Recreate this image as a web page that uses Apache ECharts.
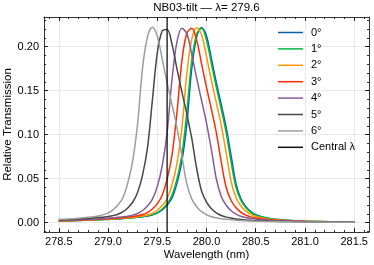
<!DOCTYPE html>
<html>
<head>
<meta charset="utf-8">
<script src="https://cdn.jsdelivr.net/npm/echarts@6/dist/echarts.min.js"></script>
<style>
html,body{margin:0;padding:0;background:#fff;}
#chart{width:374px;height:265px;}
</style>
</head>
<body>
<div id="chart"></div>
<script>
// ---- data ----
const WAVELENGTH = [278.5, 278.6, 278.7, 278.8, 278.9, 279.0, 279.05, 279.1, 279.15, 279.2, 279.25, 279.3, 279.35, 279.4, 279.45, 279.5, 279.55, 279.6, 279.65, 279.7, 279.75, 279.8, 279.85, 279.9, 279.95, 280.0, 280.05, 280.1, 280.15, 280.2, 280.25, 280.3, 280.35, 280.4, 280.45, 280.5, 280.6, 280.7, 280.8, 280.9, 281.0, 281.25, 281.5];

const T_0 = [0.0018, 0.0021, 0.0025, 0.0029, 0.0033, 0.0037, 0.0040, 0.0043, 0.0047, 0.0051, 0.0056, 0.0062, 0.0068, 0.0076, 0.0088, 0.0108, 0.0145, 0.0200, 0.0280, 0.0450, 0.0700, 0.1120, 0.1750, 0.2110, 0.2215, 0.2120, 0.1860, 0.1590, 0.1340, 0.1080, 0.0760, 0.0440, 0.0270, 0.0180, 0.0125, 0.0090, 0.0056, 0.0038, 0.0028, 0.0021, 0.0018, 0.0011, 0.0007];
const T_1 = [0.0018, 0.0021, 0.0026, 0.0029, 0.0034, 0.0038, 0.0041, 0.0044, 0.0048, 0.0052, 0.0057, 0.0063, 0.0070, 0.0078, 0.0092, 0.0115, 0.0156, 0.0216, 0.0312, 0.0494, 0.0772, 0.1252, 0.1838, 0.2142, 0.2208, 0.2072, 0.1804, 0.1538, 0.1288, 0.1020, 0.0688, 0.0400, 0.0252, 0.0169, 0.0118, 0.0086, 0.0053, 0.0037, 0.0027, 0.0021, 0.0017, 0.0011, 0.0007];
const T_2 = [0.0018, 0.0022, 0.0027, 0.0030, 0.0035, 0.0040, 0.0043, 0.0047, 0.0051, 0.0055, 0.0061, 0.0067, 0.0075, 0.0087, 0.0106, 0.0141, 0.0194, 0.0272, 0.0432, 0.0672, 0.1072, 0.1690, 0.2082, 0.2214, 0.2134, 0.1888, 0.1616, 0.1364, 0.1106, 0.0794, 0.0468, 0.0284, 0.0189, 0.0131, 0.0094, 0.0070, 0.0046, 0.0033, 0.0024, 0.0019, 0.0016, 0.0010, 0.0007];
const T_3 = [0.0021, 0.0026, 0.0029, 0.0034, 0.0038, 0.0044, 0.0048, 0.0052, 0.0057, 0.0063, 0.0070, 0.0078, 0.0092, 0.0115, 0.0156, 0.0216, 0.0312, 0.0494, 0.0772, 0.1252, 0.1838, 0.2152, 0.2208, 0.2072, 0.1804, 0.1538, 0.1288, 0.1020, 0.0688, 0.0400, 0.0252, 0.0169, 0.0118, 0.0086, 0.0066, 0.0053, 0.0037, 0.0027, 0.0021, 0.0017, 0.0014, 0.0009, 0.0007];
const T_4 = [0.0025, 0.0028, 0.0033, 0.0037, 0.0043, 0.0051, 0.0055, 0.0061, 0.0067, 0.0074, 0.0086, 0.0104, 0.0138, 0.0189, 0.0264, 0.0410, 0.0644, 0.1024, 0.1630, 0.2054, 0.2208, 0.2148, 0.1916, 0.1642, 0.1388, 0.1132, 0.0828, 0.0496, 0.0298, 0.0198, 0.0136, 0.0097, 0.0072, 0.0059, 0.0047, 0.0040, 0.0029, 0.0022, 0.0018, 0.0015, 0.0012, 0.0008, 0.0006];
const T_5 = [0.0032, 0.0036, 0.0041, 0.0049, 0.0058, 0.0071, 0.0080, 0.0096, 0.0122, 0.0167, 0.0232, 0.0344, 0.0538, 0.0844, 0.1384, 0.1926, 0.2177, 0.2196, 0.2026, 0.1748, 0.1486, 0.1236, 0.0960, 0.0616, 0.0360, 0.0234, 0.0159, 0.0111, 0.0081, 0.0063, 0.0052, 0.0042, 0.0036, 0.0030, 0.0026, 0.0023, 0.0019, 0.0015, 0.0013, 0.0011, 0.0009, 0.0007, 0.0005];
const T_6 = [0.0038, 0.0043, 0.0051, 0.0062, 0.0076, 0.0108, 0.0145, 0.0200, 0.0280, 0.0450, 0.0700, 0.1120, 0.1750, 0.2110, 0.2220, 0.2120, 0.1860, 0.1590, 0.1340, 0.1080, 0.0760, 0.0440, 0.0270, 0.0180, 0.0125, 0.0090, 0.0068, 0.0056, 0.0045, 0.0038, 0.0032, 0.0028, 0.0024, 0.0021, 0.0019, 0.0017, 0.0014, 0.0012, 0.0010, 0.0009, 0.0008, 0.0006, 0.0005];

const SERIES_NAMES = ['0°', '1°', '2°', '3°', '4°', '5°', '6°'];
const SERIES_VALUES = [T_0, T_1, T_2, T_3, T_4, T_5, T_6];
const SERIES_COLORS = ['#0C5DA5', '#00B945', '#FF9500', '#FF2C00', '#845B97', '#474747', '#9e9e9e'];

const CENTRAL_LAMBDA = 279.6;
const CENTRAL_NAME = 'Central λ';
const TITLE = 'NB03-tilt — λ= 279.6';

const X_TICKS = [278.5, 279.0, 279.5, 280.0, 280.5, 281.0, 281.5];
const Y_TICKS = [0.00, 0.05, 0.10, 0.15, 0.20];

// ---- layout ----
const XMIN = 278.35, XMAX = 281.65;
const YMIN = -0.0106, YMAX = 0.2337;
const X_MINOR = [];
for (let i = 0; i <= 32; i++) X_MINOR.push(Math.round((278.4 + i * 0.1) * 1000) / 1000);
const Y_MINOR = [];
for (let i = -1; i <= 23; i++) Y_MINOR.push(Math.round(i * 0.01 * 1000) / 1000);

const FONT = 'Liberation Sans';
const INK = '#000';
const axLine = { show: true, onZero: false, lineStyle: { color: INK, width: 0.8 } };
const gridLine = { show: true, lineStyle: { color: '#e2e2e2', width: 0.8 } };

function xAx(pos, major, showLine, extra) {
  return Object.assign({
    type: 'value', min: XMIN, max: XMAX, position: pos, gridIndex: 0,
    axisLine: showLine ? axLine : { show: false, onZero: false },
    axisTick: { show: true, inside: true, length: major ? 4 : 2, customValues: major ? X_TICKS : X_MINOR, lineStyle: { color: INK, width: 0.8 } },
    axisLabel: { show: false },
    splitLine: { show: false }
  }, extra || {});
}
function yAx(pos, major, showLine, extra) {
  return Object.assign({
    type: 'value', min: YMIN, max: YMAX, position: pos, gridIndex: 0,
    axisLine: showLine ? axLine : { show: false, onZero: false },
    axisTick: { show: true, inside: true, length: major ? 4 : 2, customValues: major ? Y_TICKS : Y_MINOR, lineStyle: { color: INK, width: 0.8 } },
    axisLabel: { show: false },
    splitLine: { show: false }
  }, extra || {});
}

const series = SERIES_NAMES.map((name, k) => ({
  name: name,
  type: 'line',
  xAxisIndex: 0, yAxisIndex: 0,
  data: WAVELENGTH.map((x, i) => [x, SERIES_VALUES[k][i]]),
  smooth: 0.35,
  symbol: 'none',
  showSymbol: false,
  color: SERIES_COLORS[k],
  lineStyle: { color: SERIES_COLORS[k], width: 1.5 },
  z: 3
}));
series.push({
  name: CENTRAL_NAME,
  type: 'line',
  xAxisIndex: 0, yAxisIndex: 0,
  data: [[CENTRAL_LAMBDA, YMIN], [CENTRAL_LAMBDA, YMAX]],
  symbol: 'none',
  showSymbol: false,
  color: '#111',
  lineStyle: { color: '#111', width: 1.3 },
  z: 3
});

const chart = echarts.init(document.getElementById('chart'), null, { renderer: 'canvas' });
chart.setOption({
  animation: false,
  backgroundColor: '#fff',
  textStyle: { fontFamily: FONT },
  title: {
    text: TITLE, left: 206.5, top: 1.5, textAlign: 'center', padding: 0,
    textStyle: { fontFamily: FONT, fontSize: 11.5, fontWeight: 'normal', color: INK }
  },
  grid: { left: 44, right: 5, top: 17, bottom: 33, containLabel: false, outerBoundsMode: 'none' },
  legend: {
    orient: 'vertical', left: 278, top: 26.5, padding: 0,
    itemWidth: 25, itemHeight: 12, itemGap: 4.4,
    icon: 'path://M0,0h25v1.5h-25z',
    data: SERIES_NAMES.concat([CENTRAL_NAME]),
    textStyle: { fontFamily: FONT, fontSize: 11, color: INK, lineHeight: 12, padding: [0, 0, 0, 3] }
  },
  xAxis: [
    xAx('bottom', true, true, {
      axisLabel: { show: true, customValues: X_TICKS, formatter: v => v.toFixed(1), margin: 4, fontFamily: FONT, fontSize: 11, color: INK },
      splitLine: gridLine,
      name: 'Wavelength (nm)', nameLocation: 'middle', nameGap: 17, nameMoveOverlap: false,
      nameTextStyle: { fontFamily: FONT, fontSize: 11.3, color: INK }
    }),
    xAx('bottom', false, false),
    xAx('top', true, true),
    xAx('top', false, false)
  ],
  yAxis: [
    yAx('left', true, true, {
      axisLabel: { show: true, customValues: Y_TICKS, formatter: v => v.toFixed(2), margin: 5, fontFamily: FONT, fontSize: 11, color: INK },
      splitLine: gridLine,
      name: 'Relative Transmission', nameLocation: 'middle', nameGap: 30, nameMoveOverlap: false,
      nameTextStyle: { fontFamily: FONT, fontSize: 11.5, color: INK }
    }),
    yAx('left', false, false),
    yAx('right', true, true),
    yAx('right', false, false)
  ],
  series: series
});
</script>
</body>
</html>
